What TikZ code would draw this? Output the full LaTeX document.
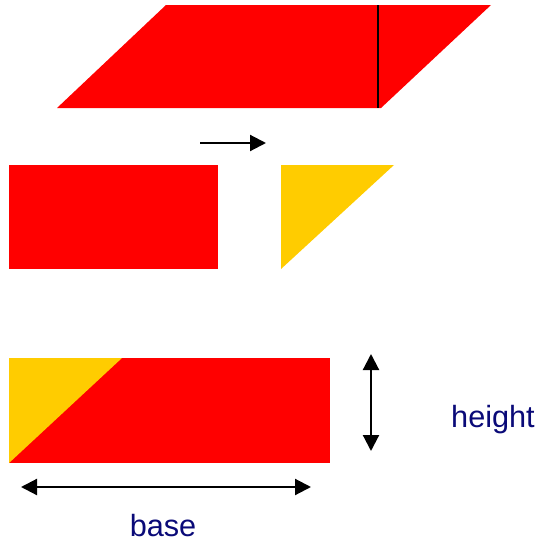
\documentclass[tikz,border=0pt]{standalone}
\usepackage{fontspec}
\setmainfont{Liberation Sans}
\usetikzlibrary{arrows.meta, positioning}
\definecolor{shapered}{RGB}{255, 0, 0}
\definecolor{shapeyellow}{RGB}{255, 204, 0}
\definecolor{labelnavy}{RGB}{10, 10, 120}

\begin{document}
\begin{tikzpicture}[
    x=0.75pt, y=-0.75pt,
    redpart/.style={fill=shapered, draw=none},
    yellowpart/.style={fill=shapeyellow, draw=none},
    pointer/.style={draw=black, line width=1.6pt, -{Triangle[length=12pt, width=12pt]}},
    measure/.style={draw=black, line width=1.6pt, {Triangle[length=12pt, width=12pt]}-{Triangle[length=12pt, width=12pt]}},
    dimlabel/.style={text=labelnavy, font=\fontsize{23}{27}\selectfont, inner sep=0pt}
]
\useasboundingbox (0,0) rectangle (541,543);

% Top: parallelogram with cut line
\fill[redpart] (57,108) -- (166,5) -- (491,5) -- (381,108) -- cycle;
\draw[black, line width=1.5pt] (378,5) -- (378,108);

% Middle: move the triangle
\coordinate (moveFrom) at (200,143);
\coordinate (moveTo) at (266,143);
\draw[pointer] (moveFrom) -- (moveTo);
\fill[redpart] (9,165) rectangle (218,269);
\fill[yellowpart] (281,165) -- (394,165) -- (281,269) -- cycle;

% Bottom: rectangle
\fill[redpart] (9,358) rectangle (330,463);
\fill[yellowpart] (9,358) -- (122,358) -- (9,463) -- cycle;

% Dimensions
\coordinate (heightTop) at (371,354);
\coordinate (heightBot) at (371,451);
\coordinate (baseLeft) at (21,487);
\coordinate (baseRight) at (311,487);
\draw[measure] (heightTop) -- (heightBot);
\draw[measure] (baseLeft) -- (baseRight);
\node[dimlabel] (heightLabel) at (493,420) {height};
\node[dimlabel] (baseLabel) at (163,526) {base};

\end{tikzpicture}
\end{document}
